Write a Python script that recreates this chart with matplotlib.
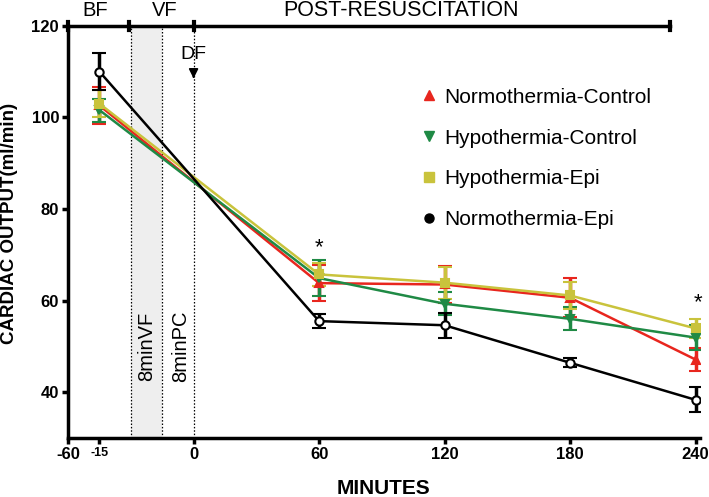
import matplotlib
matplotlib.use('Agg')
import matplotlib.pyplot as plt
from matplotlib.lines import Line2D

plt.rcParams['font.family'] = ['Liberation Sans', 'DejaVu Sans']

# x positions (BF plotted at -45, labelled -15)
minutes = [-45, 60, 120, 180, 240]

norm_ctrl = [102.6, 63.8, 63.5, 60.6, 47.1]
norm_ctrl_err = [4.0, 4.0, 4.0, 4.3, 2.5]
hypo_ctrl = [101.6, 64.9, 59.3, 56.0, 51.9]
hypo_ctrl_err = [2.5, 3.9, 2.5, 2.5, 2.8]
hypo_epi = [103.0, 65.7, 63.9, 61.1, 53.9]
hypo_epi_err = [3.0, 2.5, 3.5, 3.0, 2.0]
norm_epi = [110.0, 55.5, 54.6, 46.4, 38.3]
norm_epi_err = [4.0, 1.5, 2.7, 1.0, 2.7]

xticks = [-60, -45, 0, 60, 120, 180, 240]
xticklabels = ['-60', '-15', '0', '60', '120', '180', '240']
yticks = [40, 60, 80, 100, 120]

fig = plt.figure(figsize=(7.09, 4.97), dpi=100)
ax = fig.add_axes([0.096, 0.119, 0.891, 0.829])

series = [
    ('Normothermia-Control', norm_ctrl, norm_ctrl_err, '#e8261e', '^', '#e8261e'),
    ('Hypothermia-Control', hypo_ctrl, hypo_ctrl_err, '#1f8a45', 'v', '#1f8a45'),
    ('Hypothermia-Epi', hypo_epi, hypo_epi_err, '#c9c33c', 's', '#c9c33c'),
    ('Normothermia-Epi', norm_epi, norm_epi_err, 'black', 'o', 'white'),
]
handles = []
for name, y, e, c, m, fc in series:
    ax.errorbar(minutes, y, yerr=e, color=c, marker=m, markersize=6,
                markerfacecolor=fc, markeredgecolor=c, markeredgewidth=1.5,
                lw=1.8, elinewidth=2.5, capsize=5, capthick=3)
    handles.append(Line2D([], [], ls='none', marker=m, markersize=6.5,
                          markerfacecolor=c, markeredgecolor=c, label=name))

# VF shaded region and dotted lines
ax.axvspan(-30, -15, color='#eeeeee', lw=0)
for xv in [-30, -15, 0]:
    ax.axvline(xv, color='black', ls=(0, (1.2, 1.5)), lw=0.9)

ax.text(-22.5, 50, '8minVF', rotation=90, ha='center', va='center', fontsize=14.5)
ax.text(-6, 50, '8minPC', rotation=90, ha='center', va='center', fontsize=14.5)

# top bracket
ax.plot([-60, 228], [120, 120], color='black', lw=2.5, clip_on=False)
for xv in [-60, -31, 0, 228]:
    ax.plot([xv, xv], [119.2, 120.8], color='black', lw=3, clip_on=False)
ax.text(-47, 123.3, 'BF', ha='center', va='center', fontsize=14.5)
ax.text(-14, 123.3, 'VF', ha='center', va='center', fontsize=14.5)
ax.text(99, 123.3, 'POST-RESUSCITATION', ha='center', va='center', fontsize=15.5)

ax.annotate('DF', xy=(0, 108.5), xytext=(0, 113.7), ha='center', va='center',
            fontsize=14, arrowprops=dict(arrowstyle='-|>', color='black', lw=1.2,
                                         shrinkA=7, shrinkB=0))

ax.text(60, 71.5, '*', ha='center', va='center', fontsize=16)
ax.text(241, 59.5, '*', ha='center', va='center', fontsize=16)

ax.set_xlim(-60, 242)
ax.set_ylim(30, 120)
ax.set_xticks(xticks)
ax.set_xticklabels(xticklabels, fontweight='bold', fontsize=12)
ax.get_xticklabels()[1].set_fontsize(9)
ax.set_yticks(yticks)
ax.set_yticklabels([str(v) for v in yticks], fontweight='bold', fontsize=12)
ax.tick_params(width=2.5, length=4.5, pad=2)

for s in ['top', 'right']:
    ax.spines[s].set_visible(False)
for s in ['left', 'bottom']:
    ax.spines[s].set_linewidth(2.5)

ax.set_xlabel('MINUTES', fontweight='bold', fontsize=15)
ax.xaxis.label.set_va('center')
ax.xaxis.set_label_coords(0.5, -0.124)
ax.set_ylabel('CARDIAC OUTPUT(ml/min)', fontweight='bold', fontsize=13.5)
ax.yaxis.label.set_va('center')
ax.yaxis.set_label_coords(-0.092, 0.52)

ax.legend(handles=handles, loc='upper left', bbox_to_anchor=(0.562, 0.85),
          frameon=False, fontsize=15, handlelength=0.6, handletextpad=0.4,
          labelspacing=1.05, borderpad=0, borderaxespad=0)

fig.savefig('out.png', dpi=100)
